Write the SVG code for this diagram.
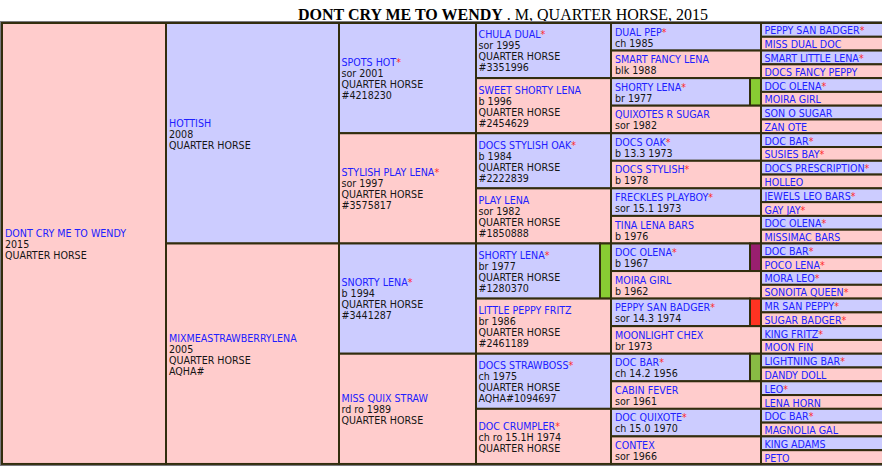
<svg xmlns="http://www.w3.org/2000/svg" width="882" height="467" viewBox="0 0 882 467">
<style>
.c{stroke:#322d0e;stroke-width:2}
.b{fill:#ccccff}
.p{fill:#ffcccc}
text{font-family:"DejaVu Sans Condensed","DejaVu Sans",sans-serif;font-stretch:condensed;font-size:10.6px;fill:#151515}
.n{fill:#2020ff}
.s{fill:#ff2a2a}
.t{font-family:"Liberation Serif","Times New Roman",serif;font-stretch:normal;font-size:16px;fill:#000}
.bar{stroke:#322d0e;stroke-width:2}
</style>
<rect width="882" height="467" fill="#ffffff"/>
<text class="t" x="298" y="20"><tspan font-weight="bold">DONT CRY ME TO WENDY</tspan> . M, QUARTER HORSE, 2015</text>
<rect x="0.5" y="21.5" width="890" height="444" fill="none" stroke="#7a7a80" stroke-width="1"/>

<g id="gen1">
<g id="n-dont-cry-me-to-wendy"><rect class="c p" x="2" y="23" width="164" height="440.96"/><text x="5" y="236.8"><tspan class="n">DONT CRY ME TO WENDY</tspan><tspan x="5" dy="11">2015</tspan><tspan x="5" dy="11">QUARTER HORSE</tspan></text></g>
</g>

<g id="gen2">
<g id="n-hottish"><rect class="c b" x="166" y="23" width="173" height="220.48"/><text x="169" y="126.5"><tspan class="n">HOTTISH</tspan><tspan x="169" dy="11">2008</tspan><tspan x="169" dy="11">QUARTER HORSE</tspan></text></g>
<g id="n-mixmeastrawberrylena"><rect class="c p" x="166" y="243.48" width="173" height="220.48"/><text x="169" y="341.5"><tspan class="n">MIXMEASTRAWBERRYLENA</tspan><tspan x="169" dy="11">2005</tspan><tspan x="169" dy="11">QUARTER HORSE</tspan><tspan x="169" dy="11">AQHA#</tspan></text></g>
</g>

<g id="gen3">
<g id="n-spots-hot"><rect class="c b" x="339" y="23" width="137" height="110.24"/><text x="341.5" y="65.9"><tspan class="n">SPOTS HOT<tspan class="s">*</tspan></tspan><tspan x="341.5" dy="11">sor 2001</tspan><tspan x="341.5" dy="11">QUARTER HORSE</tspan><tspan x="341.5" dy="11">#4218230</tspan></text></g>
<g id="n-stylish-play-lena"><rect class="c p" x="339" y="133.24" width="137" height="110.24"/><text x="341.5" y="176.2"><tspan class="n">STYLISH PLAY LENA<tspan class="s">*</tspan></tspan><tspan x="341.5" dy="11">sor 1997</tspan><tspan x="341.5" dy="11">QUARTER HORSE</tspan><tspan x="341.5" dy="11">#3575817</tspan></text></g>
<g id="n-snorty-lena"><rect class="c b" x="339" y="243.48" width="137" height="110.24"/><text x="341.5" y="286.4"><tspan class="n">SNORTY LENA<tspan class="s">*</tspan></tspan><tspan x="341.5" dy="11">b 1994</tspan><tspan x="341.5" dy="11">QUARTER HORSE</tspan><tspan x="341.5" dy="11">#3441287</tspan></text></g>
<g id="n-miss-quix-straw"><rect class="c p" x="339" y="353.72" width="137" height="110.24"/><text x="341.5" y="402.1"><tspan class="n">MISS QUIX STRAW</tspan><tspan x="341.5" dy="11">rd ro 1989</tspan><tspan x="341.5" dy="11">QUARTER HORSE</tspan></text></g>
</g>

<g id="gen4">
<g id="n-chula-dual"><rect class="c b" x="476" y="23" width="135" height="55.12"/><text x="478.5" y="38.4"><tspan class="n">CHULA DUAL<tspan class="s">*</tspan></tspan><tspan x="478.5" dy="11">sor 1995</tspan><tspan x="478.5" dy="11">QUARTER HORSE</tspan><tspan x="478.5" dy="11">#3351996</tspan></text></g>
<g id="n-sweet-shorty-lena"><rect class="c p" x="476" y="78.12" width="135" height="55.12"/><text x="478.5" y="93.5"><tspan class="n">SWEET SHORTY LENA</tspan><tspan x="478.5" dy="11">b 1996</tspan><tspan x="478.5" dy="11">QUARTER HORSE</tspan><tspan x="478.5" dy="11">#2454629</tspan></text></g>
<g id="n-docs-stylish-oak"><rect class="c b" x="476" y="133.24" width="135" height="55.12"/><text x="478.5" y="148.6"><tspan class="n">DOCS STYLISH OAK<tspan class="s">*</tspan></tspan><tspan x="478.5" dy="11">b 1984</tspan><tspan x="478.5" dy="11">QUARTER HORSE</tspan><tspan x="478.5" dy="11">#2222839</tspan></text></g>
<g id="n-play-lena"><rect class="c p" x="476" y="188.36" width="135" height="55.12"/><text x="478.5" y="203.7"><tspan class="n">PLAY LENA</tspan><tspan x="478.5" dy="11">sor 1982</tspan><tspan x="478.5" dy="11">QUARTER HORSE</tspan><tspan x="478.5" dy="11">#1850888</tspan></text></g>
<g id="n-shorty-lena-4"><rect class="c b" x="476" y="243.48" width="124" height="55.12"/><rect class="bar" x="600" y="243.48" width="11" height="55.12" fill="#88cc33"/><text x="478.5" y="258.8"><tspan class="n">SHORTY LENA<tspan class="s">*</tspan></tspan><tspan x="478.5" dy="11">br 1977</tspan><tspan x="478.5" dy="11">QUARTER HORSE</tspan><tspan x="478.5" dy="11">#1280370</tspan></text></g>
<g id="n-little-peppy-fritz"><rect class="c p" x="476" y="298.6" width="135" height="55.12"/><text x="478.5" y="314"><tspan class="n">LITTLE PEPPY FRITZ</tspan><tspan x="478.5" dy="11">br 1986</tspan><tspan x="478.5" dy="11">QUARTER HORSE</tspan><tspan x="478.5" dy="11">#2461189</tspan></text></g>
<g id="n-docs-strawboss"><rect class="c b" x="476" y="353.72" width="135" height="55.12"/><text x="478.5" y="369.1"><tspan class="n">DOCS STRAWBOSS<tspan class="s">*</tspan></tspan><tspan x="478.5" dy="11">ch 1975</tspan><tspan x="478.5" dy="11">QUARTER HORSE</tspan><tspan x="478.5" dy="11">AQHA#1094697</tspan></text></g>
<g id="n-doc-crumpler"><rect class="c p" x="476" y="408.84" width="135" height="55.12"/><text x="478.5" y="429.7"><tspan class="n">DOC CRUMPLER<tspan class="s">*</tspan></tspan><tspan x="478.5" dy="11">ch ro 15.1H 1974</tspan><tspan x="478.5" dy="11">QUARTER HORSE</tspan></text></g>
</g>

<g id="gen5">
<g id="n-dual-pep"><rect class="c b" x="611" y="23" width="150" height="27.56"/><text x="615" y="35.6"><tspan class="n">DUAL PEP<tspan class="s">*</tspan></tspan><tspan x="615" dy="11">ch 1985</tspan></text></g>
<g id="n-smart-fancy-lena"><rect class="c p" x="611" y="50.56" width="150" height="27.56"/><text x="615" y="63.2"><tspan class="n">SMART FANCY LENA</tspan><tspan x="615" dy="11">blk 1988</tspan></text></g>
<g id="n-shorty-lena-5"><rect class="c b" x="611" y="78.12" width="139" height="27.56"/><rect class="bar" x="750" y="78.12" width="11" height="27.56" fill="#88cc33"/><text x="615" y="90.7"><tspan class="n">SHORTY LENA<tspan class="s">*</tspan></tspan><tspan x="615" dy="11">br 1977</tspan></text></g>
<g id="n-quixotes-r-sugar"><rect class="c p" x="611" y="105.68" width="150" height="27.56"/><text x="615" y="118.3"><tspan class="n">QUIXOTES R SUGAR</tspan><tspan x="615" dy="11">sor 1982</tspan></text></g>
<g id="n-docs-oak"><rect class="c b" x="611" y="133.24" width="150" height="27.56"/><text x="615" y="145.8"><tspan class="n">DOCS OAK<tspan class="s">*</tspan></tspan><tspan x="615" dy="11">b 13.3 1973</tspan></text></g>
<g id="n-docs-stylish"><rect class="c p" x="611" y="160.8" width="150" height="27.56"/><text x="615" y="173.4"><tspan class="n">DOCS STYLISH<tspan class="s">*</tspan></tspan><tspan x="615" dy="11">b 1978</tspan></text></g>
<g id="n-freckles-playboy"><rect class="c b" x="611" y="188.36" width="150" height="27.56"/><text x="615" y="201"><tspan class="n">FRECKLES PLAYBOY<tspan class="s">*</tspan></tspan><tspan x="615" dy="11">sor 15.1 1973</tspan></text></g>
<g id="n-tina-lena-bars"><rect class="c p" x="611" y="215.92" width="150" height="27.56"/><text x="615" y="228.5"><tspan class="n">TINA LENA BARS</tspan><tspan x="615" dy="11">b 1976</tspan></text></g>
<g id="n-doc-olena-5"><rect class="c b" x="611" y="243.48" width="139" height="27.56"/><rect class="bar" x="750" y="243.48" width="11" height="27.56" fill="#991f6f"/><text x="615" y="256.1"><tspan class="n">DOC OLENA<tspan class="s">*</tspan></tspan><tspan x="615" dy="11">b 1967</tspan></text></g>
<g id="n-moira-girl-5"><rect class="c p" x="611" y="271.04" width="150" height="27.56"/><text x="615" y="283.6"><tspan class="n">MOIRA GIRL</tspan><tspan x="615" dy="11">b 1962</tspan></text></g>
<g id="n-peppy-san-badger-5"><rect class="c b" x="611" y="298.6" width="139" height="27.56"/><rect class="bar" x="750" y="298.6" width="11" height="27.56" fill="#ff3322"/><text x="615" y="311.2"><tspan class="n">PEPPY SAN BADGER<tspan class="s">*</tspan></tspan><tspan x="615" dy="11">sor 14.3 1974</tspan></text></g>
<g id="n-moonlight-chex"><rect class="c p" x="611" y="326.16" width="150" height="27.56"/><text x="615" y="338.8"><tspan class="n">MOONLIGHT CHEX</tspan><tspan x="615" dy="11">br 1973</tspan></text></g>
<g id="n-doc-bar-5"><rect class="c b" x="611" y="353.72" width="139" height="27.56"/><rect class="bar" x="750" y="353.72" width="11" height="27.56" fill="#88bb44"/><text x="615" y="366.3"><tspan class="n">DOC BAR<tspan class="s">*</tspan></tspan><tspan x="615" dy="11">ch 14.2 1956</tspan></text></g>
<g id="n-cabin-fever"><rect class="c p" x="611" y="381.28" width="150" height="27.56"/><text x="615" y="393.9"><tspan class="n">CABIN FEVER</tspan><tspan x="615" dy="11">sor 1961</tspan></text></g>
<g id="n-doc-quixote"><rect class="c b" x="611" y="408.84" width="150" height="27.56"/><text x="615" y="421.4"><tspan class="n">DOC QUIXOTE<tspan class="s">*</tspan></tspan><tspan x="615" dy="11">ch 15.0 1970</tspan></text></g>
<g id="n-contex"><rect class="c p" x="611" y="436.4" width="150" height="27.56"/><text x="615" y="449"><tspan class="n">CONTEX</tspan><tspan x="615" dy="11">sor 1966</tspan></text></g>
</g>

<g id="gen6">
<g id="n6-01"><rect class="c b" x="761" y="23" width="129" height="13.78"/><text x="764.5" y="34.4" class="n">PEPPY SAN BADGER<tspan class="s">*</tspan></text></g>
<g id="n6-02"><rect class="c p" x="761" y="36.78" width="129" height="13.78"/><text x="764.5" y="48.2" class="n">MISS DUAL DOC</text></g>
<g id="n6-03"><rect class="c b" x="761" y="50.56" width="129" height="13.78"/><text x="764.5" y="62" class="n">SMART LITTLE LENA<tspan class="s">*</tspan></text></g>
<g id="n6-04"><rect class="c p" x="761" y="64.34" width="129" height="13.78"/><text x="764.5" y="75.7" class="n">DOCS FANCY PEPPY</text></g>
<g id="n6-05"><rect class="c b" x="761" y="78.12" width="129" height="13.78"/><text x="764.5" y="89.5" class="n">DOC OLENA<tspan class="s">*</tspan></text></g>
<g id="n6-06"><rect class="c p" x="761" y="91.9" width="129" height="13.78"/><text x="764.5" y="103.3" class="n">MOIRA GIRL</text></g>
<g id="n6-07"><rect class="c b" x="761" y="105.68" width="129" height="13.78"/><text x="764.5" y="117.1" class="n">SON O SUGAR</text></g>
<g id="n6-08"><rect class="c p" x="761" y="119.46" width="129" height="13.78"/><text x="764.5" y="130.9" class="n">ZAN OTE</text></g>
<g id="n6-09"><rect class="c b" x="761" y="133.24" width="129" height="13.78"/><text x="764.5" y="144.6" class="n">DOC BAR<tspan class="s">*</tspan></text></g>
<g id="n6-10"><rect class="c p" x="761" y="147.02" width="129" height="13.78"/><text x="764.5" y="158.4" class="n">SUSIES BAY<tspan class="s">*</tspan></text></g>
<g id="n6-11"><rect class="c b" x="761" y="160.8" width="129" height="13.78"/><text x="764.5" y="172.2" class="n">DOCS PRESCRIPTION<tspan class="s">*</tspan></text></g>
<g id="n6-12"><rect class="c p" x="761" y="174.58" width="129" height="13.78"/><text x="764.5" y="186" class="n">HOLLEO</text></g>
<g id="n6-13"><rect class="c b" x="761" y="188.36" width="129" height="13.78"/><text x="764.5" y="199.8" class="n">JEWELS LEO BARS<tspan class="s">*</tspan></text></g>
<g id="n6-14"><rect class="c p" x="761" y="202.14" width="129" height="13.78"/><text x="764.5" y="213.5" class="n">GAY JAY<tspan class="s">*</tspan></text></g>
<g id="n6-15"><rect class="c b" x="761" y="215.92" width="129" height="13.78"/><text x="764.5" y="227.3" class="n">DOC OLENA<tspan class="s">*</tspan></text></g>
<g id="n6-16"><rect class="c p" x="761" y="229.7" width="129" height="13.78"/><text x="764.5" y="241.1" class="n">MISSIMAC BARS</text></g>
<g id="n6-17"><rect class="c b" x="761" y="243.48" width="129" height="13.78"/><text x="764.5" y="254.9" class="n">DOC BAR<tspan class="s">*</tspan></text></g>
<g id="n6-18"><rect class="c p" x="761" y="257.26" width="129" height="13.78"/><text x="764.5" y="268.7" class="n">POCO LENA<tspan class="s">*</tspan></text></g>
<g id="n6-19"><rect class="c b" x="761" y="271.04" width="129" height="13.78"/><text x="764.5" y="282.4" class="n">MORA LEO<tspan class="s">*</tspan></text></g>
<g id="n6-20"><rect class="c p" x="761" y="284.82" width="129" height="13.78"/><text x="764.5" y="296.2" class="n">SONOITA QUEEN<tspan class="s">*</tspan></text></g>
<g id="n6-21"><rect class="c b" x="761" y="298.6" width="129" height="13.78"/><text x="764.5" y="310" class="n">MR SAN PEPPY<tspan class="s">*</tspan></text></g>
<g id="n6-22"><rect class="c p" x="761" y="312.38" width="129" height="13.78"/><text x="764.5" y="323.8" class="n">SUGAR BADGER<tspan class="s">*</tspan></text></g>
<g id="n6-23"><rect class="c b" x="761" y="326.16" width="129" height="13.78"/><text x="764.5" y="337.6" class="n">KING FRITZ<tspan class="s">*</tspan></text></g>
<g id="n6-24"><rect class="c p" x="761" y="339.94" width="129" height="13.78"/><text x="764.5" y="351.3" class="n">MOON FIN</text></g>
<g id="n6-25"><rect class="c b" x="761" y="353.72" width="129" height="13.78"/><text x="764.5" y="365.1" class="n">LIGHTNING BAR<tspan class="s">*</tspan></text></g>
<g id="n6-26"><rect class="c p" x="761" y="367.5" width="129" height="13.78"/><text x="764.5" y="378.9" class="n">DANDY DOLL</text></g>
<g id="n6-27"><rect class="c b" x="761" y="381.28" width="129" height="13.78"/><text x="764.5" y="392.7" class="n">LEO<tspan class="s">*</tspan></text></g>
<g id="n6-28"><rect class="c p" x="761" y="395.06" width="129" height="13.78"/><text x="764.5" y="406.5" class="n">LENA HORN</text></g>
<g id="n6-29"><rect class="c b" x="761" y="408.84" width="129" height="13.78"/><text x="764.5" y="420.2" class="n">DOC BAR<tspan class="s">*</tspan></text></g>
<g id="n6-30"><rect class="c p" x="761" y="422.62" width="129" height="13.78"/><text x="764.5" y="434" class="n">MAGNOLIA GAL</text></g>
<g id="n6-31"><rect class="c b" x="761" y="436.4" width="129" height="13.78"/><text x="764.5" y="447.8" class="n">KING ADAMS</text></g>
<g id="n6-32"><rect class="c p" x="761" y="450.18" width="129" height="13.78"/><text x="764.5" y="461.6" class="n">PETO</text></g>
</g>
</svg>
